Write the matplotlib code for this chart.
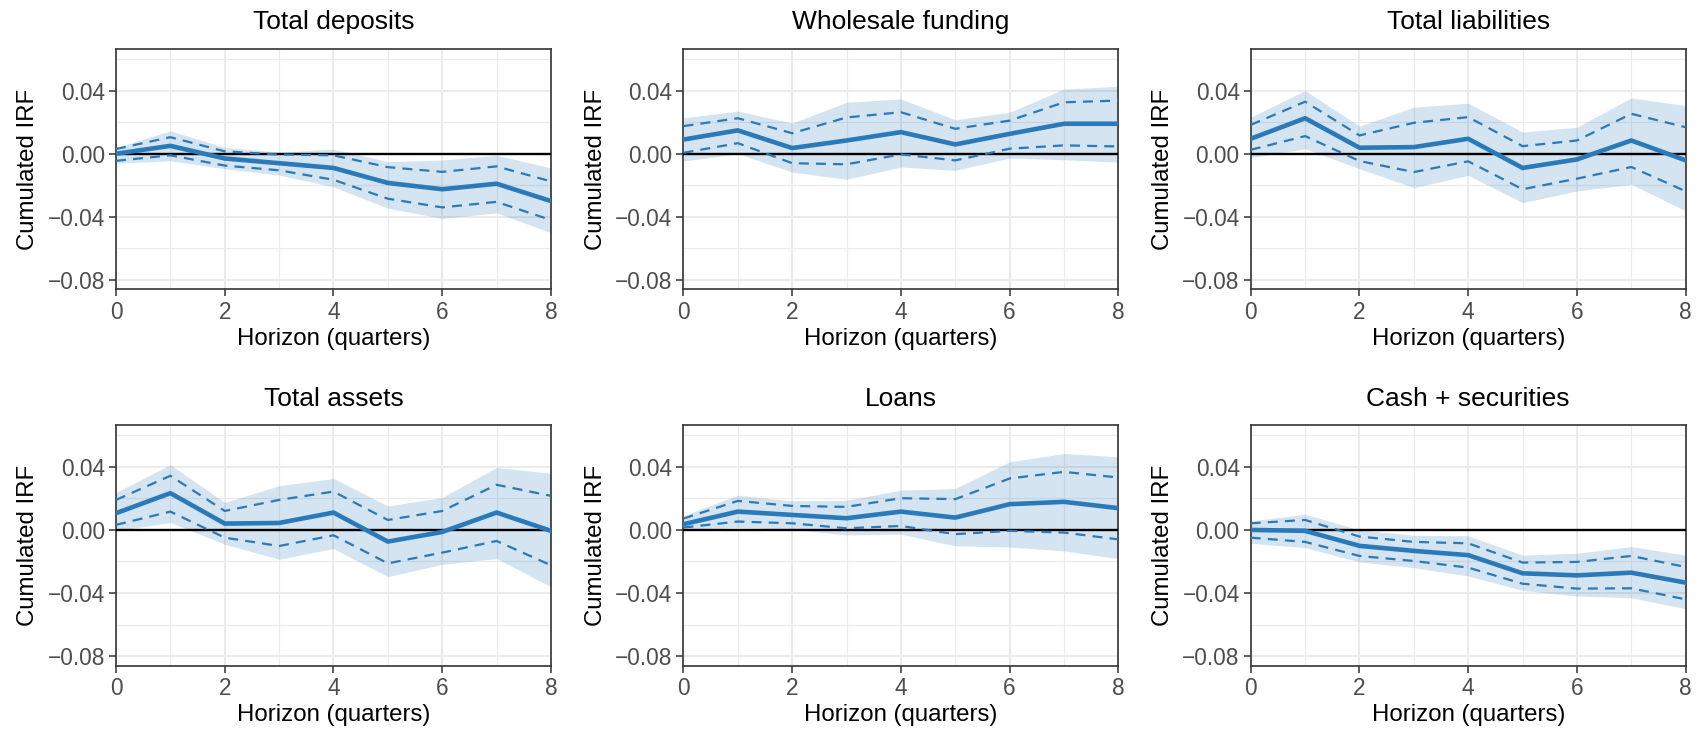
import matplotlib
matplotlib.use("Agg")
import matplotlib.pyplot as plt
import numpy as np

plt.rcParams['font.family'] = ['Liberation Sans', 'DejaVu Sans']

horizon = [0, 1, 2, 3, 4, 5, 6, 7, 8]

titles = ["Total deposits", "Wholesale funding", "Total liabilities",
          "Total assets", "Loans", "Cash + securities"]

# point estimates
irf = [
    [0.000, 0.005, -0.003, -0.006, -0.009, -0.0185, -0.0225, -0.019, -0.030],
    [0.009, 0.0148, 0.0036, 0.0084, 0.0137, 0.0059, 0.0126, 0.019, 0.019],
    [0.0095, 0.0225, 0.0038, 0.0042, 0.0095, -0.009, -0.0036, 0.0084, -0.0042],
    [0.0106, 0.0233, 0.004, 0.0044, 0.011, -0.0074, -0.0013, 0.011, -0.0006],
    [0.0036, 0.0116, 0.0095, 0.0074, 0.0116, 0.0078, 0.0163, 0.0178, 0.0138],
    [0.000, -0.0006, -0.0101, -0.0133, -0.016, -0.0275, -0.0288, -0.0271, -0.0334],
]

# inner bounds (dashed)
inner_hi = [
    [0.003, 0.0105, 0.0015, -0.0005, -0.001, -0.0085, -0.0115, -0.008, -0.0175],
    [0.0175, 0.0225, 0.013, 0.023, 0.0263, 0.0158, 0.021, 0.0326, 0.0337],
    [0.0183, 0.033, 0.0116, 0.0196, 0.0232, 0.0048, 0.0084, 0.0253, 0.0168],
    [0.019, 0.0343, 0.012, 0.019, 0.0243, 0.0063, 0.012, 0.0286, 0.0216],
    [0.0072, 0.0184, 0.0152, 0.0146, 0.0201, 0.0195, 0.0326, 0.0368, 0.0332],
    [0.0042, 0.0063, -0.0042, -0.0076, -0.0085, -0.0207, -0.0203, -0.0165, -0.0235],
]
inner_lo = [
    [-0.0045, -0.001, -0.0075, -0.0105, -0.0165, -0.0285, -0.034, -0.0305, -0.042],
    [0.0006, 0.0067, -0.006, -0.0067, -0.0004, -0.0042, 0.0032, 0.0053, 0.0046],
    [0.0025, 0.0112, -0.0046, -0.0116, -0.0048, -0.0225, -0.0158, -0.0084, -0.0238],
    [0.0032, 0.0116, -0.0049, -0.0102, -0.0034, -0.0212, -0.0144, -0.007, -0.0224],
    [0.0015, 0.0053, 0.0042, 0.001, 0.0025, -0.0027, -0.0006, -0.0017, -0.006],
    [-0.0049, -0.0076, -0.0165, -0.0197, -0.0239, -0.0341, -0.0372, -0.037, -0.044],
]

# outer bounds (shaded band)
outer_hi = [
    [0.004, 0.0145, 0.004, 0.001, 0.003, -0.005, -0.004, -0.001, -0.009],
    [0.0227, 0.027, 0.0194, 0.0326, 0.0347, 0.0215, 0.0263, 0.041, 0.0427],
    [0.0232, 0.040, 0.0175, 0.0295, 0.032, 0.0137, 0.0168, 0.0354, 0.0305],
    [0.0237, 0.0413, 0.0174, 0.028, 0.0326, 0.0152, 0.0205, 0.0396, 0.0358],
    [0.0089, 0.022, 0.0184, 0.0188, 0.0252, 0.0262, 0.0432, 0.0484, 0.0463],
    [0.0057, 0.0099, 0.000, -0.0034, -0.0038, -0.016, -0.0148, -0.0106, -0.016],
]
outer_lo = [
    [-0.006, -0.0045, -0.0095, -0.0135, -0.021, -0.0345, -0.041, -0.0375, -0.050],
    [-0.0046, 0.000, -0.0116, -0.0162, -0.0084, -0.0105, -0.0027, -0.0038, -0.0053],
    [-0.0025, 0.0032, -0.0095, -0.0215, -0.0137, -0.031, -0.0236, -0.0194, -0.0362],
    [-0.0006, 0.0047, -0.0091, -0.0186, -0.0118, -0.0296, -0.0218, -0.0182, -0.036],
    [0.0004, 0.0015, 0.0004, -0.0032, -0.0027, -0.0101, -0.0108, -0.0133, -0.0182],
    [-0.0085, -0.0112, -0.0203, -0.0239, -0.0292, -0.0383, -0.0419, -0.043, -0.0499],
]

line_col = "#2a7ab9"
band_col = "#2a7ab9"

fig = plt.figure(figsize=(17.01, 7.35), dpi=100)

lefts = [0.0682, 0.4018, 0.7353]
width = 0.2557
bottoms = [0.6062, 0.0944]
height = 0.3274

for i in range(6):
    r, c = divmod(i, 3)
    ax = fig.add_axes([lefts[c], bottoms[r], width, height])
    ax.fill_between(horizon, outer_lo[i], outer_hi[i], color=band_col, alpha=0.2, lw=0)
    ax.axhline(0, color="black", lw=1.7, zorder=3)
    ax.plot(horizon, inner_hi[i], color=line_col, lw=1.6, ls=(0, (4.5, 3.2)), zorder=4)
    ax.plot(horizon, inner_lo[i], color=line_col, lw=1.6, ls=(0, (4.5, 3.2)), zorder=4)
    ax.plot(horizon, irf[i], color=line_col, lw=3.3, zorder=5)

    ax.set_xlim(0, 8)
    ax.set_ylim(-0.086, 0.0665)
    ax.set_xticks([0, 2, 4, 6, 8])
    ax.set_xticks([1, 3, 5, 7], minor=True)
    ax.set_yticks([-0.08, -0.04, 0.0, 0.04])
    ax.set_yticklabels(["\u22120.08", "\u22120.04", "0.00", "0.04"])
    ax.set_yticks([-0.06, -0.02, 0.02, 0.06], minor=True)
    ax.grid(True, which="major", color="#ebebeb", lw=1.4, zorder=0)
    ax.grid(True, which="minor", color="#ebebeb", lw=0.8, zorder=0)
    ax.set_axisbelow(True)
    ax.tick_params(which="major", direction="out", length=5, width=1.1,
                   color="#333333", labelsize=16.3, labelcolor="#4d4d4d", pad=3)
    ax.tick_params(which="minor", length=0)
    for s in ax.spines.values():
        s.set_color("#333333")
        s.set_linewidth(1.2)

    ax.set_title(titles[i], fontsize=19, pad=14)
    ax.set_xlabel("Horizon (quarters)", fontsize=17.3, labelpad=3)
    ax.set_ylabel("Cumulated IRF", fontsize=17.3, labelpad=6)

fig.savefig("out.png", dpi=100)
